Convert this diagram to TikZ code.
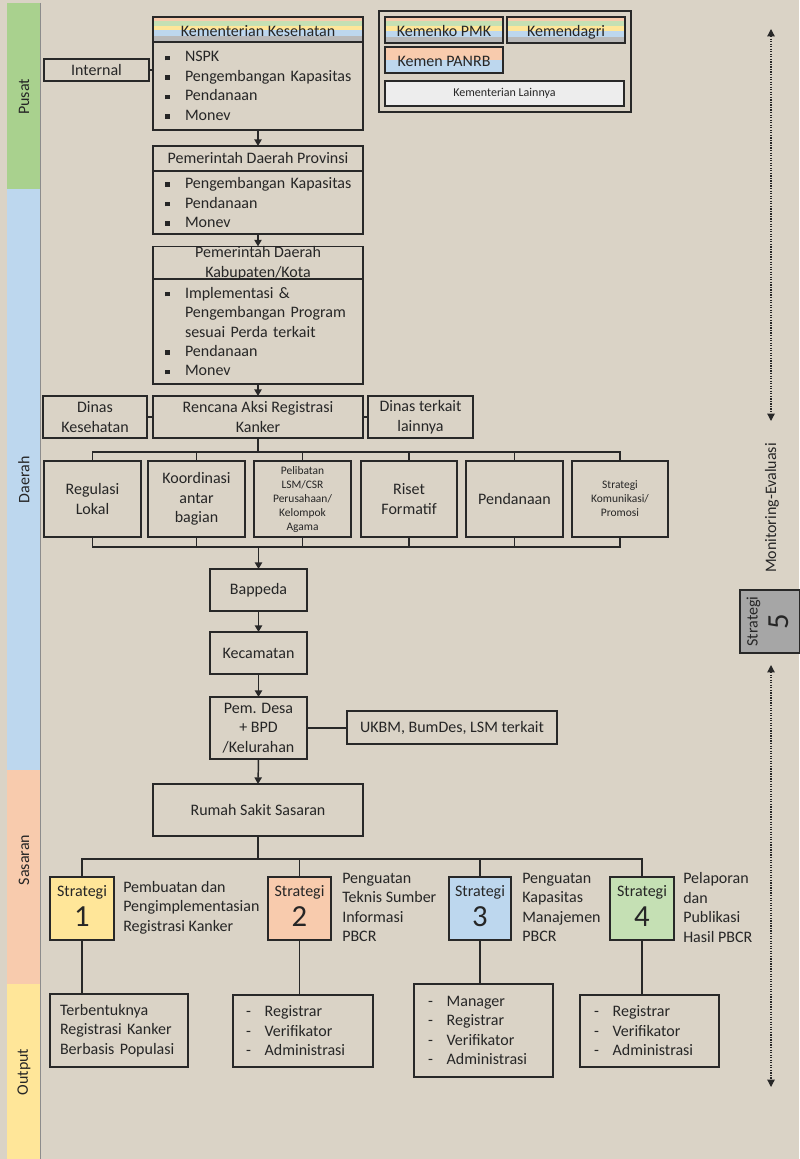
\documentclass[tikz,border=0pt]{standalone}
\usepackage{fontspec}
\setmainfont{Carlito}
\usetikzlibrary{arrows.meta,calc}
\definecolor{bg}{RGB}{218,211,198}
\definecolor{cgreen}{RGB}{169,209,142}
\definecolor{cblue}{RGB}{189,215,238}
\definecolor{csalmon}{RGB}{248,203,173}
\definecolor{cyellow}{RGB}{255,230,153}
\definecolor{lgreen}{RGB}{197,224,180}
\definecolor{cgrey}{RGB}{185,185,185}
\definecolor{cline}{RGB}{40,40,40}
\definecolor{ctext}{RGB}{38,38,38}
\definecolor{sgrey}{RGB}{166,166,166}
\definecolor{lightg}{RGB}{237,237,237}
\newcommand\bx[7]{\node[box,minimum width={(#4-#2)*0.75pt},minimum height={(#5-#3)*0.75pt},#6] (#1) at ({(#2+#4)/2},{(#3+#5)/2}) {#7};}
\newcommand\itm[1]{\mbox{\makebox[15pt][l]{\raisebox{1.2pt}{\rule{3.4pt}{3.4pt}}}#1}}
\newcommand\hng[1]{\mbox{\hspace*{15pt}#1}}
\newcommand\dsh[1]{\mbox{\makebox[14pt][l]{-}#1}}
\newcommand\lne[1]{\mbox{#1}}
\newcommand\strat[1]{Strategi\\[5pt]{\fontsize{23}{23}\selectfont #1}\rule[-4pt]{0pt}{4pt}}
\newcommand\dn[1]{\raisebox{-5pt}[0pt][0pt]{#1}}
\tikzset{
  box/.style={draw=cline, line width=1.2pt, inner sep=0pt, outer sep=0pt, align=center, text=ctext, font=\fontsize{12}{14.6}\selectfont},
  lbox/.style={box, align=left},
  small/.style={font=\fontsize{8.6}{10.5}\selectfont},
  conn/.style={draw=cline, line width=1.1pt},
  arr/.style={conn, -{Triangle[width=5.5pt,length=5pt]}},
  dotarr/.style={draw=cline, line width=0.9pt, densely dotted, {Triangle[width=5.5pt,length=5.5pt]}-{Triangle[width=5.5pt,length=5.5pt]}},
  lbl/.style={text=ctext, font=\fontsize{12}{14.6}\selectfont, inner sep=0pt},
  desc/.style={lbl, align=left, anchor=west},
  stripes5/.style={path picture={
    \foreach \c/\a/\b in {csalmon/0/0.16, lgreen/0.16/0.36, cyellow/0.36/0.54, cblue/0.54/0.76, cgrey/0.76/1}{
      \fill[\c] ($(path picture bounding box.north west)!\a!(path picture bounding box.south west)$) rectangle ($(path picture bounding box.north east)!\b!(path picture bounding box.south east)$);
    }}},
  stripes2/.style={path picture={
    \fill[csalmon] (path picture bounding box.north west) rectangle (path picture bounding box.east);
    \fill[cblue] (path picture bounding box.west) rectangle (path picture bounding box.south east);
    }},
}
\begin{document}
\begin{tikzpicture}[x=0.75pt,y=-0.75pt]
\useasboundingbox (0,0) rectangle (799,1159);
\fill[bg] (0,0) rectangle (799,1159);
% left band
\fill[cgreen] (7,3) rectangle (40,189);
\fill[cblue] (7,189) rectangle (40,770);
\fill[csalmon] (7,770) rectangle (40,984);
\fill[cyellow] (7,984) rectangle (40,1159);
\draw[draw=black!45, line width=0.6pt] (40,3) -- (40,1159);
\node[lbl, rotate=90] (lpusat) at (24,97) {Pusat};
\node[lbl, rotate=90] (ldaerah) at (24,480) {Daerah};
\node[lbl, rotate=90] (lsasaran) at (24,860) {Sasaran};
\node[lbl, rotate=90] (loutput) at (24,1072) {Output};

% pusat
\bx{kkh}{153}{17}{363}{42}{stripes5}{\dn{Kementerian Kesehatan}}
\bx{kkb}{153}{42}{363}{130}{lbox, inner xsep=9pt, text width=139.5pt}{\itm{NSPK}\\\itm{Pengembangan Kapasitas}\\\itm{Pendanaan}\\\itm{Monev}}
\bx{int}{44}{59}{149}{81}{}{Internal}

\bx{grp}{379}{11}{631}{112}{}{}
\bx{pmk}{385}{17}{503}{43}{stripes5}{\dn{Kemenko PMK}}
\bx{dagri}{507}{17}{625}{43}{stripes5}{\dn{Kemendagri}}
\bx{panrb}{385}{47}{503}{73}{stripes2}{\dn{Kemen PANRB}}
\bx{lain}{385}{81}{624}{106}{fill=lightg, font=\fontsize{9}{11}\selectfont}{Kementerian Lainnya}

% provinsi
\bx{provh}{153}{146}{363}{171}{}{Pemerintah Daerah Provinsi}
\bx{provb}{153}{171}{363}{234}{lbox, inner xsep=9pt, text width=139.5pt}{\itm{Pengembangan Kapasitas}\\\itm{Pendanaan}\\\itm{Monev}}
% kabupaten
\bx{kabh}{153}{247}{363}{279}{}{Pemerintah Daerah\\Kabupaten/Kota}
\bx{kabb}{153}{279}{363}{384}{lbox, inner xsep=9pt, text width=139.5pt}{\itm{Implementasi \&}\\\hng{Pengembangan Program}\\\hng{sesuai Perda terkait}\\\itm{Pendanaan}\\\itm{Monev}}

% rencana row
\bx{dinkes}{43}{396}{147}{438}{}{Dinas\\Kesehatan}
\bx{ren}{153}{396}{363}{438}{}{Rencana Aksi Registrasi\\Kanker}
\bx{dinlain}{368}{396}{473}{438}{}{Dinas terkait\\lainnya}

% six boxes
\bx{b1}{44}{461}{141}{537}{}{Regulasi\\Lokal}
\bx{b2}{148}{461}{245}{537}{}{Koordinasi\\antar\\bagian}
\bx{b3}{254}{461}{351}{537}{small}{Pelibatan\\LSM/CSR\\Perusahaan/\\Kelompok\\Agama}
\bx{b4}{361}{461}{457}{537}{}{Riset\\Formatif}
\bx{b5}{466}{461}{563}{537}{}{Pendanaan}
\bx{b6}{572}{461}{668}{537}{small}{Strategi\\Komunikasi/\\Promosi}

% chain
\bx{bap}{210}{569}{307}{611}{}{Bappeda}
\bx{kec}{210}{632}{307}{674}{}{Kecamatan}
\bx{desa}{210}{697}{307}{759}{}{Pem. Desa\\+ BPD\\/Kelurahan}
\bx{ukbm}{347}{711}{557}{744}{}{UKBM, BumDes, LSM terkait}
\bx{rs}{153}{784}{363}{836}{}{Rumah Sakit Sasaran}

% strategies
\bx{s1}{50}{877}{114}{940}{fill=cyellow}{\strat{1}}
\bx{s2}{268}{877}{331}{940}{fill=csalmon}{\strat{2}}
\bx{s3}{449}{877}{511}{940}{fill=cblue}{\strat{3}}
\bx{s4}{610}{877}{674}{940}{fill=lgreen}{\strat{4}}
\node[desc] (d1) at (123,907.5) {Pembuatan dan\\Pengimplementasian\\Registrasi Kanker};
\node[desc] (d2) at (342,907.5) {Penguatan\\Teknis Sumber\\Informasi\\PBCR};
\node[desc] (d3) at (522,907.5) {Penguatan\\Kapasitas\\Manajemen\\PBCR};
\node[desc] (d4) at (683,907.5) {Pelaporan\\dan\\Publikasi\\Hasil PBCR};

% outputs
\bx{o1}{50}{994}{188}{1067}{lbox, inner xsep=7.5pt, text width=88.5pt}{\lne{Terbentuknya}\\\lne{Registrasi Kanker}\\\lne{Berbasis Populasi}}
\bx{o2}{233}{995}{373}{1067}{lbox, inner xsep=9.75pt, text width=85.5pt}{\dsh{Registrar}\\\dsh{Verifikator}\\\dsh{Administrasi}}
\bx{o3}{414}{984}{553}{1077}{lbox, inner xsep=10.5pt, text width=83.25pt}{\dsh{Manager}\\\dsh{Registrar}\\\dsh{Verifikator}\\\dsh{Administrasi}}
\bx{o4}{580}{995}{719}{1067}{lbox, inner xsep=10.5pt, text width=83.25pt}{\dsh{Registrar}\\\dsh{Verifikator}\\\dsh{Administrasi}}

% strategi 5 and monitoring
\node[box, fill=sgrey, rotate=90, minimum width=47.25pt, minimum height=45pt] (s5) at (770,621.5) {\strat{5}};
\node[lbl, rotate=90] (mon) at (772,508) {Monitoring-Evaluasi};
\coordinate (m1a) at (771,29);
\coordinate (m1b) at (771,421);
\coordinate (m2a) at (771,665);
\coordinate (m2b) at (771,1087);
\draw[dotarr] (m1a) -- (m1b);
\draw[dotarr] (m2a) -- (m2b);

% connectors
\draw[conn] (int.east) -- (int.east -| kkb.west);
\draw[arr] (kkb.south) -- (provh.north);
\draw[arr] (provb.south) -- (kabh.north);
\draw[arr] (kabb.south) -- (ren.north);
\draw[conn] (dinkes.east) -- (ren.west);
\draw[conn] (ren.east) -- (dinlain.west);
\draw[conn] (ren.south) -- ($(ren.south |- b1.north)+(0,-9)$);
\draw[conn] (b1.north) -- ++(0,-9) -| (b6.north);
\foreach \b in {b2,b3,b4,b5}{\draw[conn] (\b.north) -- ++(0,-9);}
\draw[conn] (b1.south) -- ++(0,10) -| (b6.south);
\foreach \b in {b2,b3,b4,b5}{\draw[conn] (\b.south) -- ++(0,10);}
\draw[arr] ($(bap.north |- b1.south)+(0,10)$) -- (bap.north);
\draw[arr] (bap.south) -- (kec.north);
\draw[arr] (kec.south) -- (desa.north);
\draw[arr] (desa.south) -- (rs.north);
\draw[conn] (desa.east) -- (desa.east -| ukbm.west);
\draw[conn] (rs.south) -- ($(rs.south |- s1.north)+(0,-18)$);
\draw[conn] (s1.north) -- ++(0,-18) -| (s4.north);
\draw[conn] (s2.north) -- ++(0,-18);
\draw[conn] (s3.north) -- ++(0,-18);
\draw[conn] (s1.south) -- (s1.south |- o1.north);
\draw[conn] (s2.south) -- (s2.south |- o2.north);
\draw[conn] (s3.south) -- (s3.south |- o3.north);
\draw[conn] (s4.south) -- (s4.south |- o4.north);
\end{tikzpicture}
\end{document}
